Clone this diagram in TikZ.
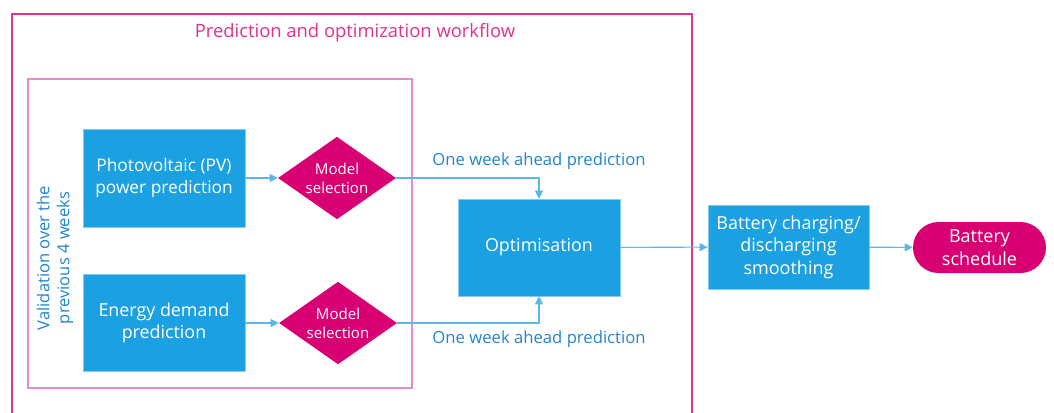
\documentclass[tikz,border=0pt]{standalone}
\usepackage{fontspec}
\setmainfont{Open Sans}
\usepackage{tikz}
\usetikzlibrary{arrows.meta, shapes.geometric, shapes.misc}

\definecolor{boxblue}{HTML}{1BA1E2}
\definecolor{selmag}{HTML}{D80073}
\definecolor{framepink}{HTML}{E0338A}
\definecolor{valpink}{HTML}{EC8AC0}
\definecolor{lineblue}{HTML}{5AB7E8}
\definecolor{txtblue}{HTML}{1F86CE}

\tikzset{
  block/.style={rectangle, fill=boxblue, draw=boxblue!55!white, line width=0.4pt,
    text=white, align=center, inner sep=0pt},
  choice/.style={diamond, fill=selmag, text=white, align=center, inner sep=-2pt,
    minimum width=88.5pt, minimum height=46.5pt, font=\fontsize{11.3}{14.3}\selectfont},
  flow/.style={draw=lineblue, line width=0.8pt, -{Triangle[length=6pt,width=6pt]}},
  note/.style={text=txtblue, font=\fontsize{12.5}{15}\selectfont}
}

\begin{document}
\begin{tikzpicture}[x=0.75pt, y=-0.75pt]
\useasboundingbox (0,0) rectangle (1054,412);
\clip (0,0) rectangle (1054,412);
% frames
\draw[framepink, line width=0.8pt] (12,14) rectangle (692,425);
\draw[valpink, line width=1pt] (28,79) rectangle (412,388);
\node[text=framepink, font=\fontsize{13.8}{16}\selectfont] (title) at (355,33)
  {Prediction and optimization workflow};
\node[text=txtblue, rotate=90, align=center, font=\fontsize{12.4}{15}\selectfont] (valid) at (55,258)
  {Validation over the\\previous 4 weeks};
% predictions
\node[block, minimum width=121.5pt, minimum height=73.5pt, font=\fontsize{13}{16}\selectfont]
  (pv) at (164,178) {Photovoltaic (PV)\\power prediction};
\node[block, minimum width=121.5pt, minimum height=72.75pt, font=\fontsize{13.4}{16.3}\selectfont]
  (demand) at (164,323) {Energy demand\\prediction};
\node[choice] (sel1) at (337,178) {Model\\selection};
\node[choice] (sel2) at (338,323) {Model\\selection};
% optimisation
\node[block, minimum width=121.5pt, minimum height=72.75pt, font=\fontsize{13.4}{16}\selectfont]
  (opt) at (539,247.5) {Optimisation};
\node[note] (ahead1) at (539,161) {One week ahead prediction};
\node[note] (ahead2) at (539,339) {One week ahead prediction};
% battery
\node[block, minimum width=120.75pt, minimum height=63pt, font=\fontsize{13.5}{17}\selectfont]
  (smooth) at (788.5,247) {Battery charging/\\discharging\\smoothing};
\node[rounded rectangle, fill=selmag, text=white, align=center, minimum width=99.75pt,
  minimum height=38.25pt, inner sep=0pt, font=\fontsize{13.5}{17}\selectfont]
  (sched) at (979.5,247.5) {Battery\\schedule};
% connectors
\draw[flow] (pv) -- (sel1);
\draw[flow] (demand) -- (sel2);
\draw[flow] (sel1.east) -| (opt.north);
\draw[flow] (sel2.east) -| (opt.south);
\draw[flow] (opt) -- (smooth);
\draw[flow] (smooth) -- (sched);
\end{tikzpicture}
\end{document}
